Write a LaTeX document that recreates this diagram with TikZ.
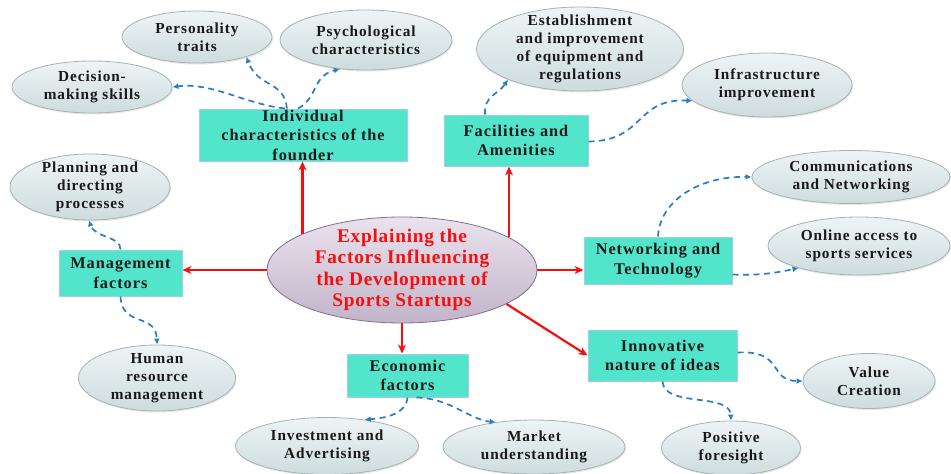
\documentclass[tikz,border=0pt]{standalone}
\usepackage{fontspec}
\setmainfont{Liberation Serif}
\newfontfamily\spacedfont[LetterSpace=6]{Liberation Serif}
\newfontfamily\mainfontsp[LetterSpace=4]{Liberation Serif}
\usetikzlibrary{shapes.geometric,arrows.meta,shadows}
\definecolor{boxfill}{RGB}{82,229,203}
\definecolor{boxline}{RGB}{160,205,235}
\definecolor{leaftop}{RGB}{238,244,245}
\definecolor{leafbot}{RGB}{206,220,222}
\definecolor{leafline}{RGB}{165,178,180}
\definecolor{maintop}{RGB}{234,226,238}
\definecolor{mainbot}{RGB}{194,180,202}
\definecolor{mainline}{RGB}{130,110,140}
\definecolor{dashblue}{RGB}{44,125,192}
\definecolor{arrowred}{RGB}{245,15,15}
\definecolor{txt}{RGB}{25,25,25}
\tikzset{
  leaftext/.style={align=center,font=\spacedfont\bfseries\fontsize{15.3}{18}\selectfont,text=txt,inner sep=0pt},
  boxtext/.style={align=center,font=\spacedfont\bfseries\fontsize{16.3}{19.5}\selectfont,text=txt,inner sep=0pt},
  maintext/.style={align=center,font=\mainfontsp\bfseries\fontsize{19.3}{21.5}\selectfont,text=arrowred,inner sep=0pt},
  leaf/.style={ellipse,draw=leafline,line width=0.8pt,top color=leaftop,bottom color=leafbot,inner sep=0pt,
    drop shadow={opacity=0.18,shadow xshift=1pt,shadow yshift=-1.5pt}},
  factor/.style={rectangle,fill=boxfill,draw=boxline,line width=1pt,inner sep=0pt},
  central/.style={ellipse,draw=mainline,line width=0.8pt,top color=maintop,bottom color=mainbot,inner sep=0pt},
  redarrow/.style={-{Stealth[length=9pt,width=8pt]},arrowred,line width=2.2pt},
  bluearrow/.style={-{Latex[length=6pt,width=6pt]},dashblue,line width=1.7pt,dash pattern=on 6pt off 4.5pt}
}
\begin{document}
\begin{tikzpicture}[x=1pt,y=-1pt]
\useasboundingbox (0,0) rectangle (951,474);
% central
\node[central,minimum width=270pt,minimum height=106pt,
  label={[maintext]center:Explaining the\\Factors Influencing\\the Development of\\Sports Startups}] (main) at (402,270) {};
% factor boxes
\node[factor,minimum width=208pt,minimum height=52pt,
  label={[boxtext]center:Individual\\characteristics of the\\founder}] (ind) at (303,135) {};
\node[factor,minimum width=144pt,minimum height=51pt,
  label={[boxtext]center:Facilities and\\Amenities}] (fac) at (516,140.5) {};
\node[factor,minimum width=148pt,minimum height=47pt,
  label={[boxtext]center:Networking and\\Technology}] (net) at (658,260.5) {};
\node[factor,minimum width=149pt,minimum height=51pt,
  label={[boxtext]center:Innovative\\nature of ideas}] (inn) at (662.5,355.5) {};
\node[factor,minimum width=121pt,minimum height=43pt,
  label={[boxtext]center:Economic\\factors}] (econ) at (407.5,375.5) {};
\node[factor,minimum width=123pt,minimum height=46pt,
  label={[boxtext]center:Management\\factors}] (man) at (120.5,273) {};
% leaves
\node[leaf,minimum width=150pt,minimum height=52pt,
  label={[leaftext]center:Personality\\traits}] (pers) at (197,37) {};
\node[leaf,minimum width=172pt,minimum height=60pt,
  label={[leaftext]center:Psychological\\characteristics}] (psych) at (366,40) {};
\node[leaf,minimum width=160pt,minimum height=52pt,
  label={[leaftext]center:Decision-\\making skills}] (dec) at (92,87) {};
\node[leaf,minimum width=160pt,minimum height=66pt,
  label={[leaftext]center:Planning and\\directing\\processes}] (plan) at (90,187) {};
\node[leaf,minimum width=157pt,minimum height=66pt,
  label={[leaftext]center:Human\\resource\\management}] (hr) at (157,378) {};
\node[leaf,minimum width=183pt,minimum height=57pt,
  label={[leaftext]center:Investment and\\Advertising}] (inv) at (327,446) {};
\node[leaf,minimum width=182pt,minimum height=54pt,
  label={[leaftext]center:Market\\understanding}] (mkt) at (534,447) {};
\node[leaf,minimum width=139pt,minimum height=54pt,
  label={[leaftext]center:Positive\\foresight}] (pos) at (731,448) {};
\node[leaf,minimum width=132pt,minimum height=55pt,
  label={[leaftext]center:Value\\Creation}] (val) at (869,381) {};
\node[leaf,minimum width=182pt,minimum height=58pt,
  label={[leaftext]center:Online access to\\sports services}] (onl) at (859,246) {};
\node[leaf,minimum width=198pt,minimum height=53pt,
  label={[leaftext]center:Communications\\and Networking}] (comm) at (851,177) {};
\node[leaf,minimum width=170pt,minimum height=64pt,
  label={[leaftext]center:Infrastructure\\improvement}] (infra) at (767,85) {};
\node[leaf,minimum width=207pt,minimum height=84pt,
  label={[leaftext]center:Establishment\\and improvement\\of equipment and\\regulations}] (est) at (580,49) {};
% red arrows
\draw[redarrow] (main.160) -- (main.160 |- ind.south);
\draw[redarrow] (main.17.6) -- (main.17.6 |- fac.south);
\draw[redarrow] (main.west) -- (main.west -| man.east);
\draw[redarrow] (main.east) -- (main.east -| net.west);
\draw[redarrow] (main.-18) -- (inn.west);
\draw[redarrow] (main.south) -- (main.south |- econ.north);
% blue dashed arrows
\draw[bluearrow] ([xshift=-18pt]ind.north) .. controls (245,104) and (212,82) .. (dec.east);
\draw[bluearrow] ([xshift=-16pt]ind.north) .. controls (284,80) and (258,88) .. (pers.-22);
\draw[bluearrow] ([xshift=-5pt]ind.north) .. controls (318,98) and (312,76) .. (psych.-132);
\draw[bluearrow] ([xshift=-31pt]fac.north) .. controls (484,95) and (498,95) .. (est.-157);
\draw[bluearrow] ([yshift=-1pt]fac.east) .. controls (645,141) and (635,98) .. (infra.-168);
\draw[bluearrow] (net.north) .. controls (660,200) and (700,176) .. (comm.west);
\draw[bluearrow] ([yshift=-14pt]net.east) .. controls (760,276) and (780,272) .. (onl.-160);
\draw[bluearrow] (man.north) .. controls (121,236) and (95,238) .. (plan.-92);
\draw[bluearrow] (man.south) .. controls (122,328) and (156,312) .. (hr.north);
\draw[bluearrow] (econ.south) .. controls (406,414) and (386,418) .. (inv.35);
\draw[bluearrow] ([xshift=9pt]econ.south) .. controls (450,398) and (470,420) .. (mkt.147);
\draw[bluearrow] ([yshift=3pt]inn.east) .. controls (785,350) and (768,381) .. (val.west);
\draw[bluearrow] (inn.south) .. controls (664,408) and (730,392) .. (pos.north);
\end{tikzpicture}
\end{document}
